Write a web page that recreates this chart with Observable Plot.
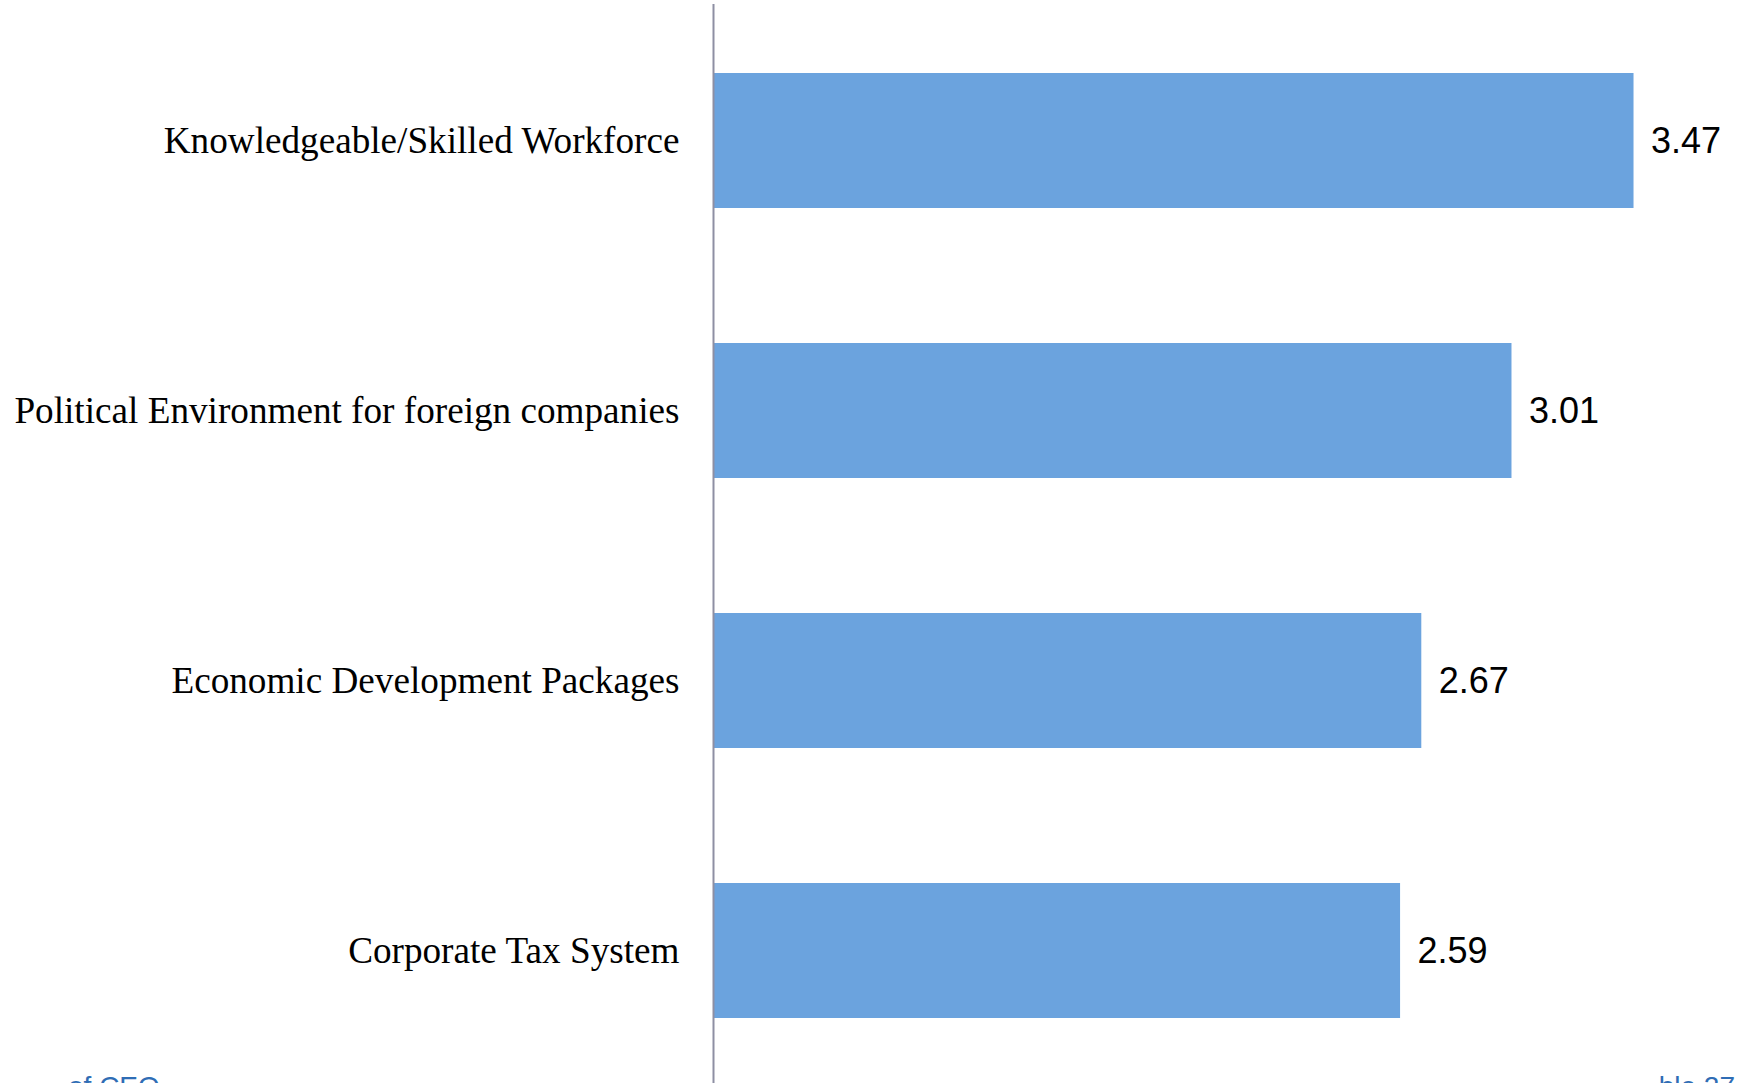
<!DOCTYPE html>
<html>
<head>
<meta charset="utf-8">
<script src="https://cdn.jsdelivr.net/npm/d3@7"></script>
<script src="https://cdn.jsdelivr.net/npm/@observablehq/plot@0.6"></script>
<style>
  html, body { margin: 0; padding: 0; background: #fff; overflow: hidden; }
  #wrap { position: relative; width: 1739px; height: 1083px; overflow: hidden; }
  #chart { position: absolute; left: 0; top: 0; }
  .foot { position: absolute; font-family: "Liberation Sans", Arial, sans-serif; font-size: 28px; color: #2F6DB5; white-space: nowrap; line-height: 1; }
</style>
</head>
<body>
<div id="wrap">
  <div id="chart"></div>
  <div class="foot" id="footL" style="left:68px; top:1073px;">of CEO</div>
  <div class="foot" id="footR" style="right:4px; top:1073px;">ble 27</div>
</div>
<script>
const categories = [
  "Knowledgeable/Skilled Workforce",
  "Political Environment for foreign companies",
  "Economic Development Packages",
  "Corporate Tax System"
];
const values = [3.47, 3.01, 2.67, 2.59];
const labels = ["3.47", "3.01", "2.67", "2.59"];

const data = categories.map((c, i) => ({category: c, value: values[i], label: labels[i]}));

const chart = Plot.plot({
  width: 1739,
  height: 1083,
  marginLeft: 713,
  marginRight: 71,
  marginTop: 4,
  marginBottom: 0,
  style: {background: "transparent"},
  x: {domain: [0, 3.6], range: [713, 1668], axis: null},
  y: {domain: categories, range: [4.4, 1086.4], paddingInner: 0.5, paddingOuter: 0.25, align: 0.5, label: null},
  marks: [
    Plot.barX(data, {x: "value", y: "category", fill: "#6BA3DE"}),
    Plot.ruleX([0], {stroke: "#8E8FA3", strokeWidth: 2}),
    Plot.axisY({
      tickSize: 0,
      tickPadding: 34,
      fontSize: 37.2,
      fontFamily: "Liberation Serif, Times New Roman, serif",
      fill: "#000",
      label: null
    }),
    Plot.text(data, {
      x: "value",
      y: "category",
      text: "label",
      dx: 17,
      textAnchor: "start",
      fontSize: 36,
      fontFamily: "Liberation Sans, Arial, sans-serif",
      fill: "#000"
    })
  ]
});
document.getElementById("chart").appendChild(chart);
</script>
</body>
</html>
